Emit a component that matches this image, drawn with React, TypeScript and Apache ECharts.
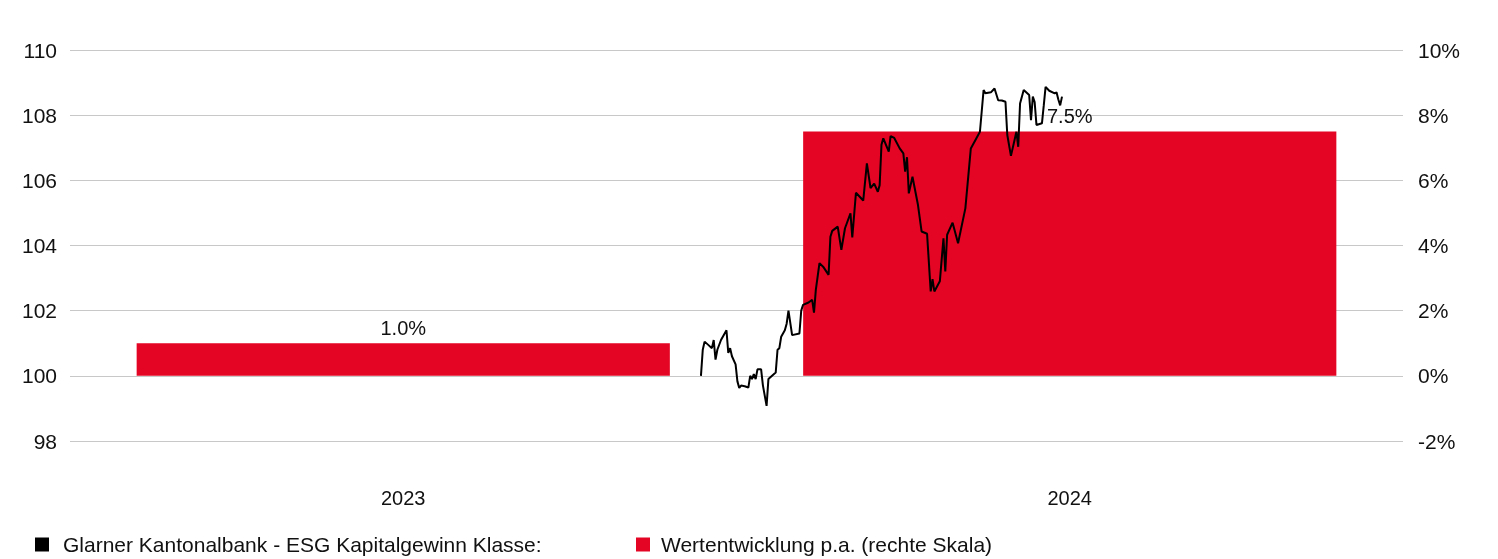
import React, { useEffect, useRef } from "react";
import * as echarts from "echarts";

const years = ["2023", "2024"];
const annualPerf = [1.0, 7.5];

const lineDates = [
  "2023-12-13", "2023-12-14", "2023-12-15", "2023-12-17", "2023-12-19", "2023-12-20", "2023-12-21", "2023-12-22",
  "2023-12-24", "2023-12-27", "2023-12-28", "2023-12-29", "2023-12-30", "2024-01-01", "2024-01-02", "2024-01-03",
  "2024-01-04", "2024-01-06", "2024-01-08", "2024-01-09", "2024-01-10", "2024-01-11", "2024-01-12", "2024-01-13",
  "2024-01-15", "2024-01-16", "2024-01-18", "2024-01-19", "2024-01-21", "2024-01-23", "2024-01-24", "2024-01-25",
  "2024-01-26", "2024-01-28", "2024-01-29", "2024-01-30", "2024-02-01", "2024-02-05", "2024-02-06", "2024-02-07",
  "2024-02-10", "2024-02-12", "2024-02-13", "2024-02-14", "2024-02-16", "2024-02-18", "2024-02-21", "2024-02-22",
  "2024-02-23", "2024-02-26", "2024-02-28", "2024-03-01", "2024-03-04", "2024-03-05", "2024-03-07", "2024-03-11",
  "2024-03-13", "2024-03-15", "2024-03-17", "2024-03-19", "2024-03-20", "2024-03-21", "2024-03-22", "2024-03-25",
  "2024-03-26", "2024-03-28", "2024-03-31", "2024-04-02", "2024-04-03", "2024-04-04", "2024-04-05", "2024-04-07",
  "2024-04-10", "2024-04-12", "2024-04-15", "2024-04-17", "2024-04-18", "2024-04-19", "2024-04-22", "2024-04-24",
  "2024-04-25", "2024-04-26", "2024-04-29", "2024-05-02", "2024-05-06", "2024-05-09", "2024-05-14", "2024-05-16",
  "2024-05-17", "2024-05-20", "2024-05-22", "2024-05-24", "2024-05-26", "2024-05-28", "2024-05-29", "2024-05-31",
  "2024-06-03", "2024-06-04", "2024-06-05", "2024-06-07", "2024-06-10", "2024-06-11", "2024-06-12", "2024-06-13",
  "2024-06-14", "2024-06-17", "2024-06-18", "2024-06-19", "2024-06-21", "2024-06-24", "2024-06-25", "2024-06-26",
  "2024-06-27", "2024-06-28",
];

const lineValues = [
  100.0, 100.8, 101.05, 100.95, 100.85, 101.1, 100.5, 100.8,
  101.1, 101.4, 100.7, 100.85, 100.6, 100.35, 99.83, 99.63,
  99.7, 99.68, 99.64, 100.0, 99.9, 100.05, 99.9, 100.2,
  100.2, 99.7, 99.08, 99.9, 100.0, 100.1, 100.8, 100.85,
  101.2, 101.4, 101.6, 102.0, 101.25, 101.3, 102.0, 102.18,
  102.25, 102.33, 101.94, 102.64, 103.46, 103.35, 103.1, 104.27,
  104.45, 104.58, 103.87, 104.53, 104.99, 104.25, 105.62, 105.38,
  106.52, 105.76, 105.9, 105.65, 105.85, 107.09, 107.29, 106.88,
  107.36, 107.3, 106.98, 106.83, 106.27, 106.71, 105.6, 106.11,
  105.25, 104.43, 104.36, 102.59, 102.97, 102.59, 102.9, 104.22,
  103.2, 104.33, 104.7, 104.07, 105.14, 106.98, 107.49, 108.77,
  108.67, 108.7, 108.82, 108.46, 108.45, 108.41, 107.39, 106.75,
  107.49, 107.03, 108.36, 108.77, 108.62, 107.85, 108.57, 108.4,
  107.7, 107.75, 108.3, 108.87, 108.75, 108.67, 108.7, 108.48,
  108.3, 108.57,
];

const leftTicks = { min: 98, max: 110, interval: 2 };
const rightTicks = { min: -2, max: 10, interval: 2 };

const lineName = "Glarner Kantonalbank - ESG Kapitalgewinn Klasse:";
const barName = "Wertentwicklung p.a. (rechte Skala)";

export default function App() {
  const ref = useRef<HTMLDivElement>(null);

  useEffect(() => {
    if (!ref.current) return;
    const chart = echarts.init(ref.current, null, { renderer: "svg" });
    const font = "'Liberation Sans', Arial, sans-serif";
    const textColor = "#111";
    chart.setOption({
      animation: false,
      textStyle: { fontFamily: font },
      grid: { left: 70, right: 95, top: 50, bottom: 118, containLabel: false },
      legend: [
        {
          data: [{ name: lineName, icon: "rect", itemStyle: { color: "#000" } }],
          left: 30,
          top: 529,
          itemWidth: 14,
          itemHeight: 14,
          textStyle: { fontSize: 21, color: textColor, fontFamily: font, padding: [0, 0, 0, 9] },
        },
        {
          data: [{ name: barName, icon: "rect" }],
          left: 631,
          top: 529,
          itemWidth: 14,
          itemHeight: 14,
          textStyle: { fontSize: 21, color: textColor, fontFamily: font, padding: [0, 0, 0, 6] },
        },
      ],
      xAxis: [
        {
          type: "category",
          data: years,
          axisLine: { show: false },
          axisTick: { show: false },
          axisLabel: { fontSize: 20, color: textColor, margin: 47 },
        },
        {
          type: "time",
          min: "2023-01-01",
          max: "2025-01-01",
          show: false,
        },
      ],
      yAxis: [
        {
          type: "value",
          position: "left",
          min: leftTicks.min,
          max: leftTicks.max,
          interval: leftTicks.interval,
          axisLine: { show: false },
          axisTick: { show: false },
          axisLabel: { fontSize: 21, color: textColor, margin: 13 },
          splitLine: { lineStyle: { color: "#c8c8c8", width: 1 } },
        },
        {
          type: "value",
          position: "right",
          min: rightTicks.min,
          max: rightTicks.max,
          interval: rightTicks.interval,
          axisLine: { show: false },
          axisTick: { show: false },
          axisLabel: { fontSize: 21, color: textColor, margin: 15, formatter: "{value}%" },
          splitLine: { show: false },
        },
      ],
      series: [
        {
          name: barName,
          type: "bar",
          xAxisIndex: 0,
          yAxisIndex: 1,
          data: annualPerf,
          barWidth: "80%",
          itemStyle: { color: "#e30523" },
          label: {
            show: true,
            position: "top",
            distance: 5,
            fontSize: 20,
            color: textColor,
            formatter: (p: any) => p.value.toFixed(1) + "%",
          },
          z: 1,
        },
        {
          name: lineName,
          type: "line",
          xAxisIndex: 1,
          yAxisIndex: 0,
          data: lineDates.map((d, i) => [d, lineValues[i]]),
          showSymbol: false,
          lineStyle: { color: "#000", width: 2 },
          itemStyle: { color: "#000" },
          z: 3,
        },
      ],
    });
    return () => chart.dispose();
  }, []);

  return (
    <div
      ref={ref}
      style={{ position: "fixed", left: 0, top: 0, width: 1498, height: 559 }}
    />
  );
}
